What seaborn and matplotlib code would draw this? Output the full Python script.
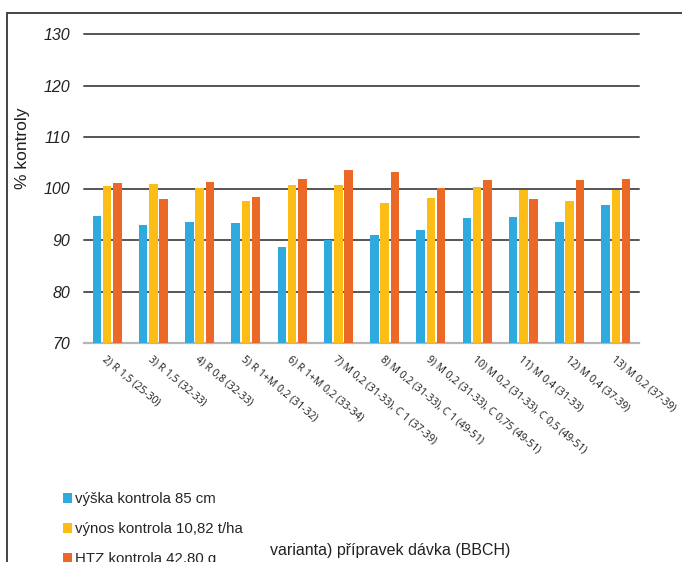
import matplotlib
matplotlib.use("Agg")
import matplotlib.pyplot as plt
from matplotlib.lines import Line2D
from matplotlib.patches import Patch
import seaborn as sns
import pandas as pd

categories = [
    "2) R 1,5 (25-30)",
    "3) R 1,5 (32-33)",
    "4) R 0,8 (32-33)",
    "5) R 1+M 0,2 (31-32)",
    "6) R 1+M 0,2 (33-34)",
    "7) M 0,2 (31-33), C 1 (37-39)",
    "8) M 0,2 (31-33), C 1 (49-51)",
    "9) M 0,2 (31-33), C 0,75 (49-51)",
    "10) M 0,2 (31-33), C 0,5 (49-51)",
    "11) M 0,4 (31-33)",
    "12) M 0,4 (37-39)",
    "13) M 0,2 (37-39)",
]
series_names = [
    "výška kontrola 85 cm",
    "výnos kontrola 10,82 t/ha",
    "HTZ kontrola 42,80 g",
]
vyska = [94.7, 93.0, 93.4, 93.3, 88.7, 90.0, 91.0, 91.9, 94.2, 94.4, 93.4, 96.7]
vynos = [100.4, 100.9, 100.1, 97.6, 100.6, 100.7, 97.1, 98.1, 100.2, 99.8, 97.5, 99.8]
htz = [101.1, 98.0, 101.2, 98.4, 101.9, 103.6, 103.3, 100.1, 101.7, 97.9, 101.7, 101.8]
colors = ["#2EAADF", "#FBBD16", "#EB6826"]
y_ticks = [70, 80, 90, 100, 110, 120, 130]

df = pd.DataFrame({
    "varianta": categories * 3,
    "rada": [series_names[0]] * 12 + [series_names[1]] * 12 + [series_names[2]] * 12,
    "hodnota": vyska + vynos + htz,
})

sns.set_style("white")
plt.rcParams["font.family"] = ["Liberation Sans", "DejaVu Sans"]

fig = plt.figure(figsize=(6.82, 5.62), dpi=100)
ax = fig.add_axes([84 / 682, 1 - 343 / 562, (639 - 84) / 682, (343 - 34) / 562])

sns.barplot(
    data=df, x="varianta", y="hodnota", hue="rada",
    palette=colors, width=0.67, gap=0.17, ax=ax,
    saturation=1, legend=False, linewidth=0,
)

ax.set_ylim(70, 130)
ax.set_xlim(-0.5, len(categories) - 0.5)
ax.set_yticks(y_ticks)
ax.set_yticklabels([str(t) for t in y_ticks], fontstyle="italic", fontsize=11.5, color="#222222")
ax.tick_params(axis="y", length=0, pad=10)
ax.tick_params(axis="x", length=0, pad=8)
ax.set_xticks(range(len(categories)))
ax.set_xticklabels(categories, rotation=-40, ha="left", va="top",
                   rotation_mode="anchor", fontsize=7.5, family=["Open Sans", "DejaVu Sans"],
                   color="#1a1a1a")
ax.set_xlabel("")
ax.set_ylabel("")

for t in y_ticks[1:]:
    ax.axhline(t, color="#555555", lw=1.4, zorder=0, clip_on=False)

for s in ["top", "right", "left"]:
    ax.spines[s].set_visible(False)
ax.spines["bottom"].set_color("#b5b5b5")
ax.spines["bottom"].set_linewidth(1.6)
ax.spines["bottom"].set_zorder(0)

fig.text(23 / 682, 1 - 148 / 562, "% kontroly", rotation=90, ha="center", va="center",
         fontsize=12.5, color="#222222")
fig.text(390 / 682, 1 - 550 / 562, "varianta) přípravek dávka (BBCH)", ha="center", va="center",
         fontsize=11.5, color="#222222")

handles = [Patch(facecolor=c, edgecolor="none") for c in colors]
fig.legend(handles, series_names, loc="upper left", bbox_to_anchor=(49 / 682, 1 - 479 / 562),
           frameon=False, handlelength=0.6, handleheight=0.6, handletextpad=0.25,
           labelspacing=1.05,
           prop={"family": ["Liberation Sans", "DejaVu Sans"], "size": 10.8})

# outer frame (left and top edges)
fig.add_artist(Line2D([7 / 682, 7 / 682], [0, 1 - 13 / 562], color="#444444", lw=1.4,
                      transform=fig.transFigure))
fig.add_artist(Line2D([7 / 682, 1], [1 - 13 / 562, 1 - 13 / 562], color="#444444", lw=1.4,
                      transform=fig.transFigure))

fig.savefig("out.png", dpi=100)
